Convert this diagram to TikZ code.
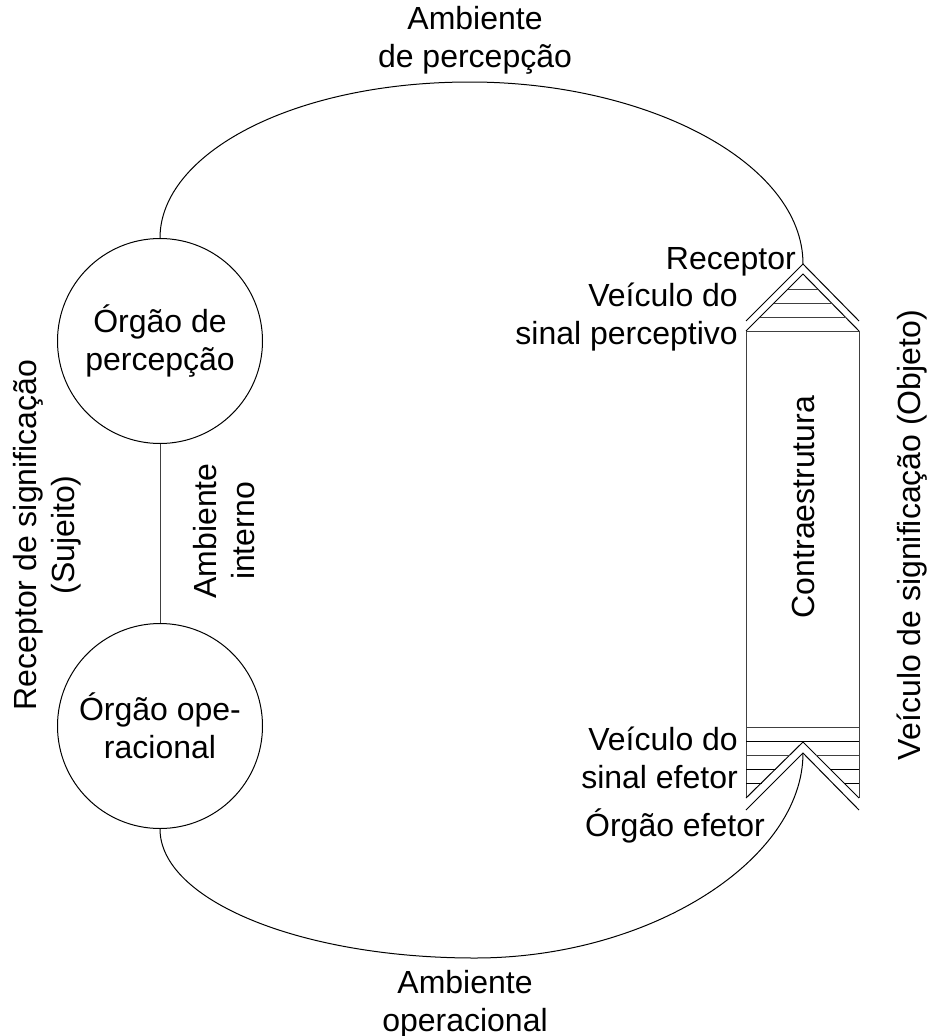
\documentclass[tikz,border=0pt]{standalone}
\usepackage{fontspec}
\setmainfont{Liberation Sans}
\begin{document}
\begin{tikzpicture}[x=1pt,y=-1pt,
  lbl/.style={font=\fontsize{32}{38}\selectfont, inner sep=0pt, align=center},
  organ/.style={draw, circle, minimum size=205pt, inner sep=0pt, line width=1pt, font=\fontsize{32}{38}\selectfont, align=center},
  ln/.style={line width=1pt},
  gl/.style={line width=1pt, black!75}]
\useasboundingbox (0,0) rectangle (931,1036);
% organs
\node[organ] (perc) at (160,341) {Órgão de\\percepção};
\node[organ] (oper) at (160,726) {Órgão ope-\\racional};
\draw[gl] (perc.south) -- (oper.north);
% receptor / effector apexes
\coordinate (rec) at (803,264);
\coordinate (eff) at (803,753);
% perception ring
\draw[ln] (perc.north) .. controls (160,154) and (292,82) .. (470,82)
  .. controls (648,82) and (803,163) .. (rec);
% operational ring
\draw[ln] (oper.south) .. controls (160,900) and (300,958) .. (475,958)
  .. controls (650,958) and (803,860) .. (eff);
% counterstructure
\draw[gl] (746,331) -- (859,331);
\draw[gl] (746,331) -- (746,798);
\draw[gl] (859,331) -- (859,798);
% receptor chevron
\draw[ln] (746,321) -- (rec) -- (859,321);
\draw[ln] (746,331) -- (803,274) -- (859,331);
\draw[gl] (788,289) -- (818,289);
\draw[gl] (774,303) -- (832,303);
\draw[gl] (760,317) -- (846,317);
% effector chevron
\draw[gl] (746,727) -- (859,727);
\draw[ln] (746,741) -- (859,741);
\draw[ln] (746,798) -- (803,742) -- (859,798);
\draw[ln] (746,810) -- (eff) -- (859,810);
\draw[gl] (746,755) -- (790,755) (816,755) -- (859,755);
\draw[ln] (746,769) -- (776,769) (830,769) -- (859,769);
\draw[ln] (746,783) -- (762,783) (844,783) -- (859,783);
% labels
\node[lbl] (t1) at (475,40) {Ambiente\\de percepção};
\node[lbl] (t2) at (465,1004) {Ambiente\\operacional};
\node[lbl, rotate=90] (t3) at (47,535) {Receptor de significação\\(Sujeito)};
\node[lbl, rotate=90] (t4) at (224,531) {Ambiente\\interno};
\node[lbl, rotate=90] (t5) at (803,507) {Contraestrutura};
\node[lbl, rotate=90] (t6) at (912,535) {Veículo de significação (Objeto)};
\node[lbl, anchor=east] (t7) at (796,262) {Receptor};
\node[lbl, anchor=east, align=right] (t8) at (738,317) {Veículo do\\sinal perceptivo};
\node[lbl, anchor=east, align=right] (t9) at (738,758) {Veículo do\\sinal efetor};
\node[lbl] (t10) at (675,826) {Órgão efetor};
\end{tikzpicture}
\end{document}
